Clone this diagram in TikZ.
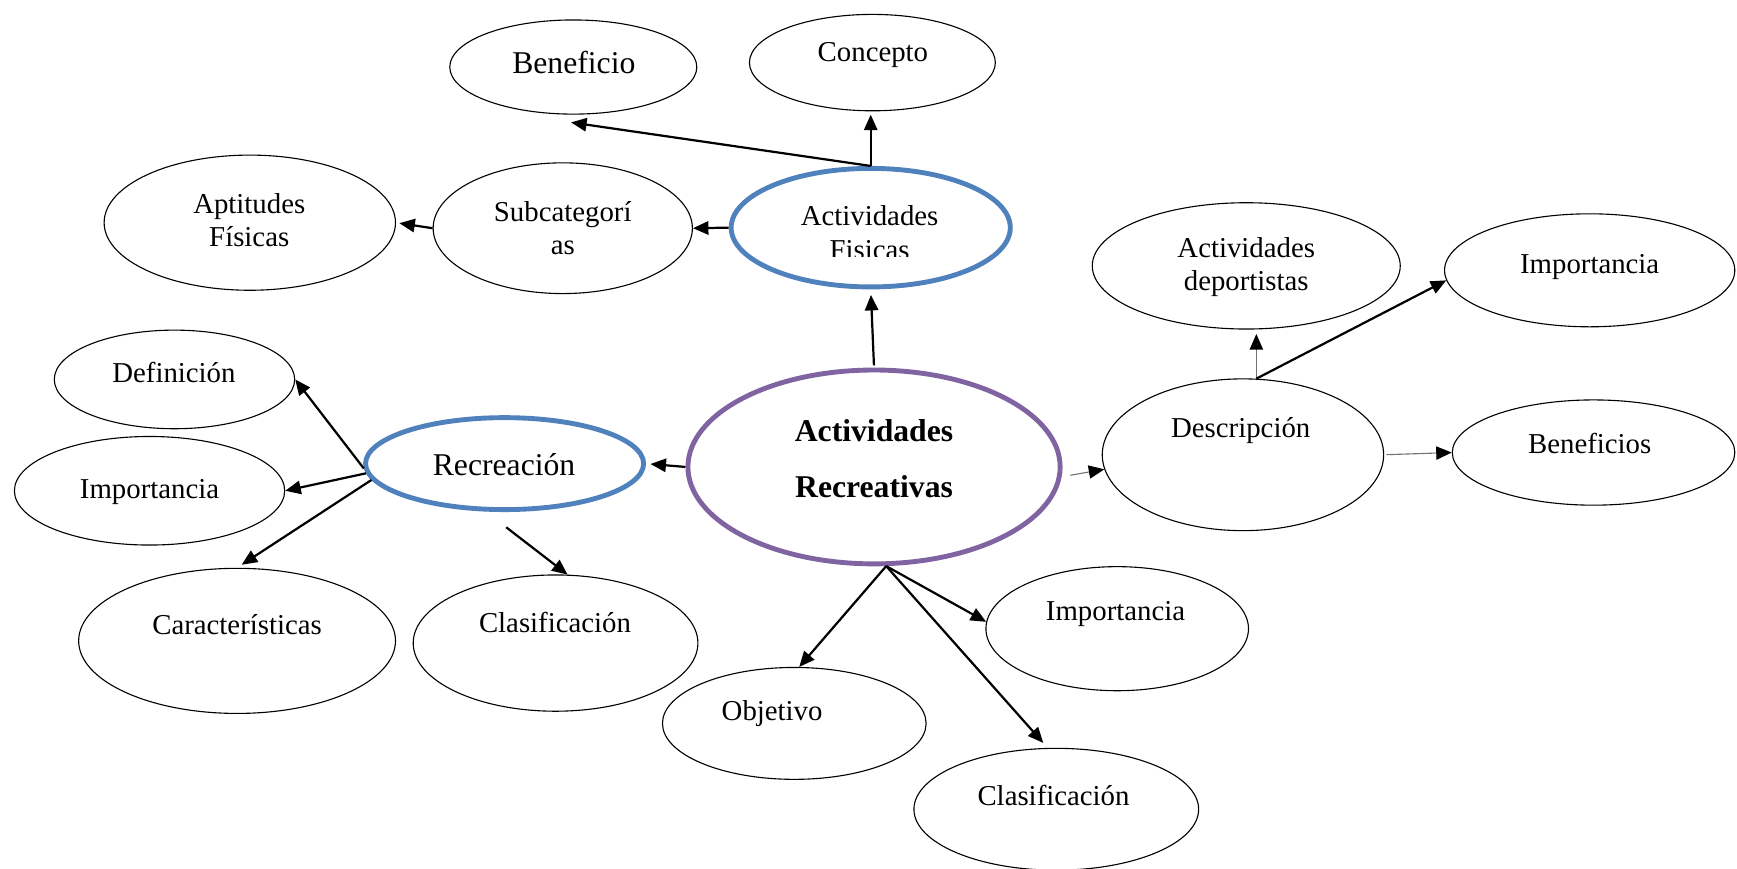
\documentclass[tikz,border=0pt]{standalone}
\usepackage{fontspec}
\setmainfont{Liberation Serif}
\usetikzlibrary{arrows.meta,shapes.geometric}
\definecolor{ablue}{HTML}{4F81BD}
\definecolor{apurple}{HTML}{8064A2}
\begin{document}
\begin{tikzpicture}[x=0.5pt,y=-0.5pt,
  bub/.style={ellipse, draw=black, line width=0.5pt, inner sep=0pt},
  bluebub/.style={ellipse, draw=ablue, line width=2.2pt, inner sep=0pt},
  purpbub/.style={ellipse, draw=apurple, line width=2.2pt, inner sep=0pt},
  txt/.style={font=\fontsize{13}{15}\selectfont, align=center, inner sep=0pt},
  bigtxt/.style={font=\fontsize{14.3}{16}\selectfont, align=center, inner sep=0pt},
  arr/.style={-{Triangle[length=7pt,width=6pt]}, line width=1pt},
  thinarr/.style={-{Triangle[length=7pt,width=6pt,black]}, line width=0.5pt, draw=black!55},
]
\useasboundingbox (0,0) rectangle (1568,784);
\fill[white] (0,0) rectangle (1568,784);

% ellipses
\node[bub, minimum width=223pt/2, minimum height=85pt/2] (ben) at (517.5,60.5) {};
\node[bub, minimum width=222pt/2, minimum height=87pt/2] (con) at (787.5,56.5) {};
\node[bub, minimum width=263pt/2, minimum height=122pt/2] (apt) at (225.5,201) {};
\node[bub, minimum width=234pt/2, minimum height=118pt/2] (sub) at (508,206) {};
\node[bluebub, minimum width=252pt/2, minimum height=107pt/2] (af) at (786,205.5) {};
\node[bub, minimum width=278pt/2, minimum height=114pt/2] (ad) at (1125,240) {};
\node[bub, minimum width=262pt/2, minimum height=102pt/2] (imp2) at (1435,244) {};
\node[bub, minimum width=217pt/2, minimum height=89pt/2] (def) at (157.5,342.5) {};
\node[bluebub, minimum width=251pt/2, minimum height=83pt/2] (rec) at (455.5,418.5) {};
\node[purpbub, minimum width=336pt/2, minimum height=175pt/2] (ar) at (789,421.5) {};
\node[bub, minimum width=254pt/2, minimum height=137pt/2] (desc) at (1122,410.5) {};
\node[bub, minimum width=255pt/2, minimum height=95pt/2] (ben2) at (1438.5,408.5) {};
\node[bub, minimum width=244pt/2, minimum height=98pt/2] (imp1) at (135,443) {};
\node[bub, minimum width=286pt/2, minimum height=131pt/2] (car) at (214,578.5) {};
\node[bub, minimum width=257pt/2, minimum height=123pt/2] (clas1) at (501.5,580.5) {};
\node[bub, minimum width=237pt/2, minimum height=112pt/2] (imp3) at (1008.5,567.5) {};
\node[bub, minimum width=238pt/2, minimum height=101pt/2] (obj) at (717,653) {};
\node[bub, minimum width=257pt/2, minimum height=110pt/2] (clas2) at (953.5,730.5) {};

% texts
\node[bigtxt] (tben) at (518,56) {Beneficio};
\node[txt] (tcon) at (788,50) {Concepto};
\node[txt] (tapt) at (225,199) {Aptitudes\\Físicas};
\node[txt] (tsub) at (508,206) {Subcategorí\\as};
\begin{scope}
  \clip (650,150) rectangle (920,231.5);
  \node[txt] (taf) at (785,210) {Actividades\\Fisicas};
\end{scope}
\node[txt] (tad) at (1125,241) {Actividades\\deportistas};
\node[txt] (timp2) at (1435,241) {Importancia};
\node[txt] (tdef) at (157,336) {Definición};
\node[bigtxt] (trec) at (455,419) {Recreación};
\node[align=center, inner sep=0pt, font=\fontsize{14.3}{25}\selectfont\bfseries] (tar) at (789,414) {Actividades\\Recreativas};
\node[txt] (tdesc) at (1120,389) {Descripción};
\node[txt] (tben2) at (1435,400) {Beneficios};
\node[txt] (timp1) at (135,444) {Importancia};
\node[txt] (tcar) at (214,564) {Características};
\node[txt] (tclas1) at (501,562) {Clasificación};
\node[txt] (timp3) at (1007,554) {Importancia};
\node[txt] (tobj) at (697,644) {Objetivo};
\node[txt] (tclas2) at (951,718) {Clasificación};

% connectors
\coordinate (recstart) at (457,476);
\draw[arr, shorten >=1.5pt] (af.north) -- (af.north |- con.south);
\draw[arr] (af.north) -- ([yshift=-3.5pt,xshift=-1pt]ben.south);
\draw[arr] (af.west) -- (sub.east);
\draw[arr, shorten >=1.5pt] (sub.west) -- (apt.east);
\draw[arr, shorten >=2.5pt, shorten <=1pt] (ar.north) -- (af.south);
\draw[arr, shorten >=2pt] (ar.west) -- (rec.east);
\draw[arr] (rec.182) -- (def.east);
\draw[arr] (rec.184) -- (imp1.east);
\draw[arr, shorten >=2.5pt] (rec.187) -- (car.north);
\draw[arr] (recstart) -- (clas1.80);
\draw[thinarr, shorten <=4pt] (ar.-3) -- (desc.186);
\draw[arr] (ar.-83) -- (obj.85);
\draw[arr] (ar.-83) -- (imp3.177);
\draw[arr, shorten >=3pt] (ar.-83) -- (clas2.98);
\draw[thinarr, shorten >=2pt] (desc.80) -- (desc.80 |- ad.south);
\draw[arr] (desc.80) -- (imp2.184);
\draw[thinarr, shorten <=1pt] (desc.east) -- (ben2.west);
\end{tikzpicture}
\end{document}
